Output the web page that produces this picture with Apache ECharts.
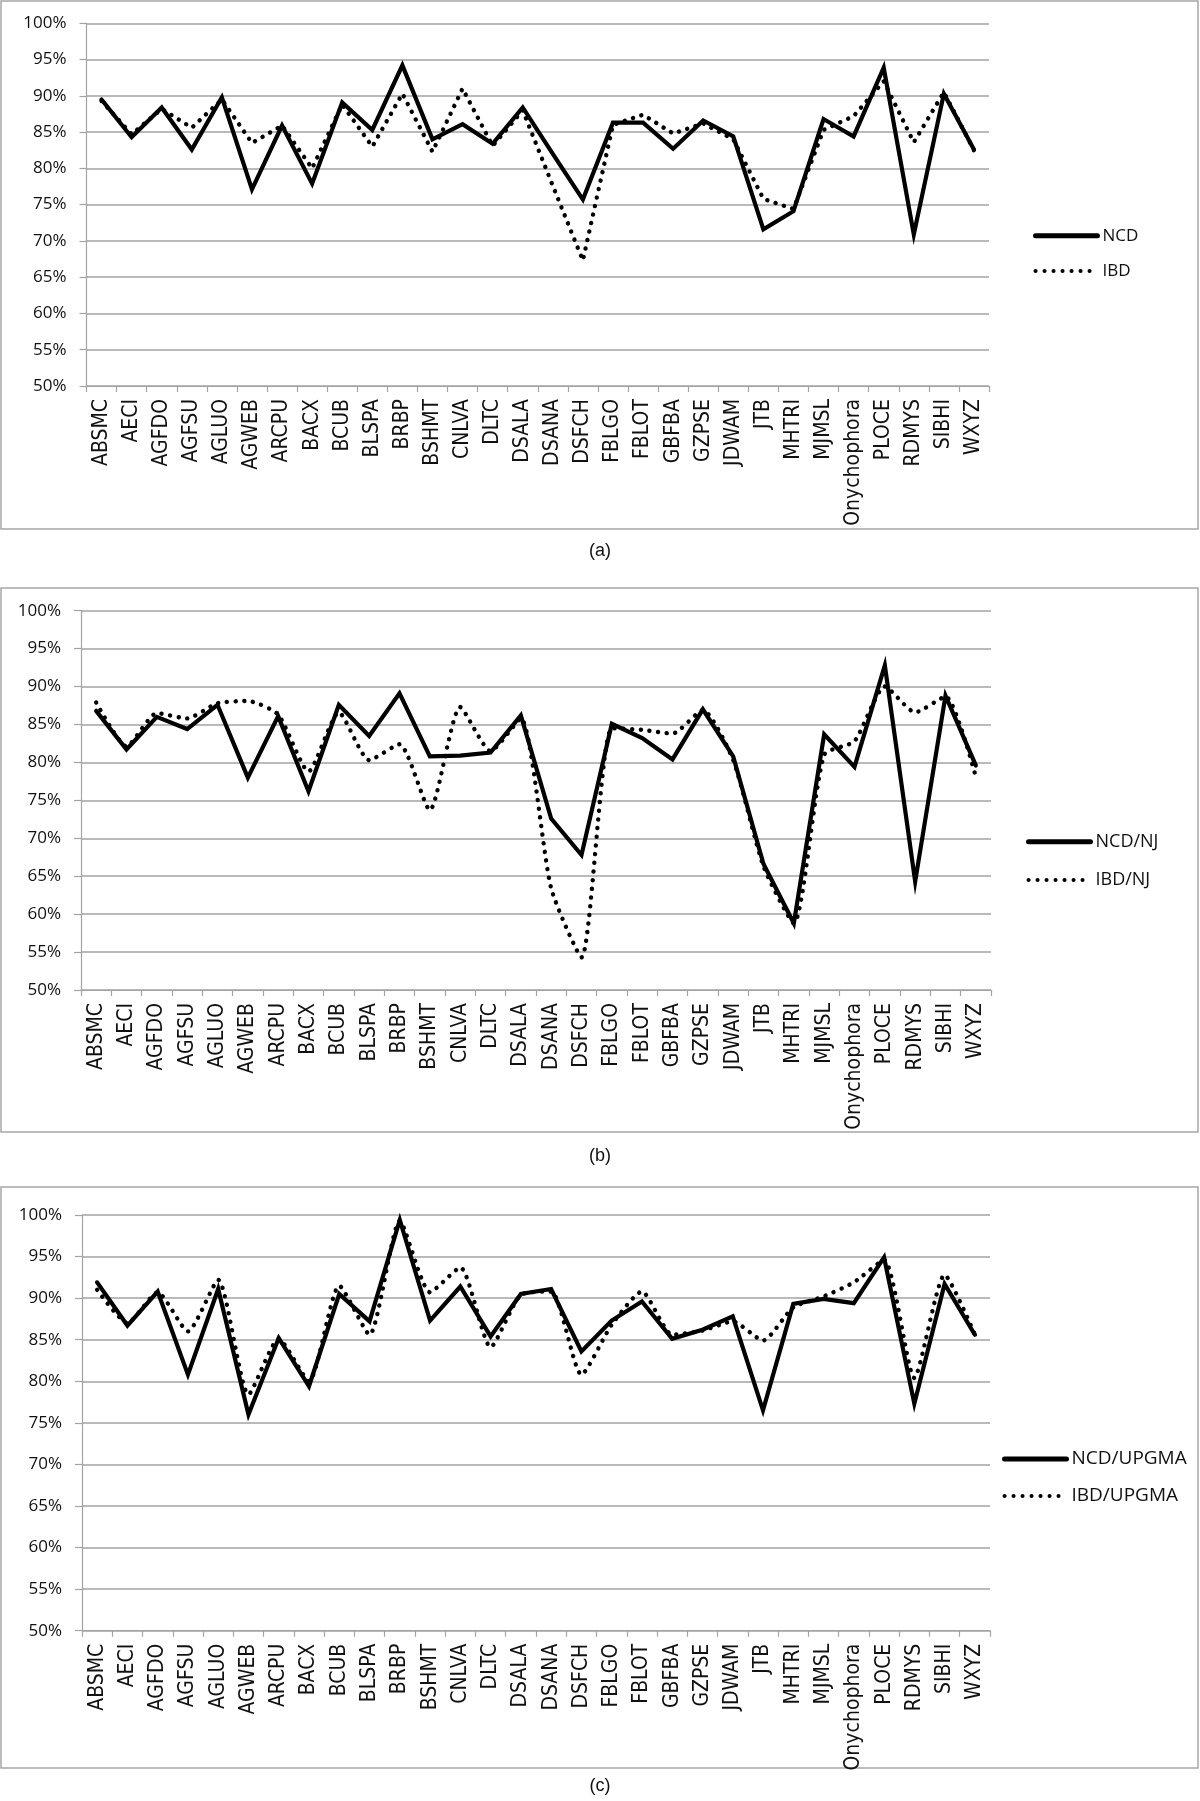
<!DOCTYPE html>
<html>
<head>
<meta charset="utf-8">
<script src="https://cdn.jsdelivr.net/npm/echarts@6/dist/echarts.min.js"></script>
<style>
  html, body { margin: 0; padding: 0; background: #ffffff; }
  #chart { width: 1200px; height: 1801px; }
</style>
</head>
<body>
<div id="chart"></div>
<script>
// ---- data ----
const categories = ['ABSMC','AECI','AGFDO','AGFSU','AGLUO','AGWEB','ARCPU','BACX','BCUB','BLSPA','BRBP','BSHMT','CNLVA','DLTC','DSALA','DSANA','DSFCH','FBLGO','FBLOT','GBFBA','GZPSE','JDWAM','JTB','MHTRI','MJMSL','Onychophora','PLOCE','RDMYS','SIBHI','WXYZ'];

// panel (a)
const ncd = [89.5, 84.3, 88.4, 82.6, 89.8, 77.1, 85.9, 77.9, 89.1, 85.3, 94.2, 84.0, 86.1, 83.4, 88.4, 82.0, 75.7, 86.3, 86.3, 82.7, 86.6, 84.4, 71.6, 74.1, 86.8, 84.4, 93.9, 70.9, 90.3, 82.6];
const ibd = [89.3, 84.7, 88.2, 85.6, 89.5, 83.5, 85.9, 80.0, 88.8, 83.0, 90.3, 82.3, 91.0, 83.1, 88.0, 77.6, 67.3, 86.0, 87.4, 84.8, 86.2, 84.0, 75.8, 74.4, 85.3, 87.2, 92.0, 83.6, 90.5, 82.5];

// panel (b)
const ncdNJ = [86.8, 81.7, 86.0, 84.4, 87.6, 78.0, 86.1, 76.2, 87.6, 83.5, 89.1, 80.8, 80.9, 81.3, 86.2, 72.6, 67.8, 85.1, 83.2, 80.4, 87.0, 80.8, 66.6, 58.8, 83.7, 79.4, 92.8, 64.3, 88.8, 79.6];
const ibdNJ = [87.9, 82.1, 86.5, 85.8, 87.8, 88.1, 86.3, 78.8, 86.6, 80.3, 82.4, 73.7, 87.3, 81.5, 85.8, 63.4, 54.3, 84.5, 84.3, 83.8, 86.9, 80.3, 66.3, 58.8, 81.0, 82.8, 90.0, 86.6, 88.7, 78.1];

// panel (c)
const ncdUPGMA = [91.9, 86.7, 90.8, 80.8, 91.1, 76.0, 85.2, 79.4, 90.5, 87.2, 99.4, 87.3, 91.4, 85.4, 90.5, 91.1, 83.6, 87.3, 89.6, 85.1, 86.2, 87.8, 76.5, 89.3, 89.9, 89.4, 94.9, 77.3, 91.7, 85.6];
const ibdUPGMA = [91.0, 87.0, 90.7, 86.0, 92.2, 78.4, 85.1, 80.0, 91.5, 85.6, 99.3, 90.7, 93.7, 84.1, 90.4, 90.8, 80.8, 86.8, 90.8, 85.6, 86.1, 87.2, 84.9, 88.9, 90.2, 91.9, 94.6, 80.4, 92.8, 85.6];

const yTicks = { min: 50, max: 100, interval: 5 };
const panelLabels = ['(a)', '(b)', '(c)'];

// ---- styles ----
const GRID_GRAY = '#a3a3a3';
const catFont = "'Liberation Sans Narrow', 'DejaVu Sans Condensed', 'Arial Narrow', sans-serif";
const tickFont = "'Open Sans', 'Noto Sans', sans-serif";

const grids = [
  { left: 86.5, top: 23.3, width: 902.5, height: 362.7 },
  { left: 81, top: 610.7, width: 910, height: 379.3 },
  { left: 82, top: 1215, width: 908, height: 415.7 }
];

function xAxis(i) {
  return {
    type: 'category', gridIndex: i, data: categories, boundaryGap: true,
    axisLine: { show: true, lineStyle: { color: GRID_GRAY, width: 1.2 } },
    axisTick: { show: true, length: 6, lineStyle: { color: GRID_GRAY, width: 1.2 } },
    axisLabel: { rotate: 90, interval: 0, margin: 13, color: '#111', fontFamily: catFont, fontSize: 21 },
    splitLine: { show: false }
  };
}
function yAxis(i) {
  return {
    type: 'value', gridIndex: i, min: yTicks.min, max: yTicks.max, interval: yTicks.interval,
    axisLine: { show: true, lineStyle: { color: GRID_GRAY, width: 1.2 } },
    axisTick: { show: true, length: 7, lineStyle: { color: GRID_GRAY, width: 1.2 } },
    axisLabel: { formatter: '{value}%', margin: 20, color: '#111', fontFamily: tickFont, fontSize: 17 },
    splitLine: { show: true, lineStyle: { color: GRID_GRAY, width: 1.5 } }
  };
}
const solidStyle = { color: '#000', width: 4.2, type: 'solid', cap: 'round', join: 'miter' };
const dotStyle = { color: '#000', width: 4.4, type: [0.1, 8.6], cap: 'round', join: 'round' };

function solid(name, data, i) {
  return { name, type: 'line', data, xAxisIndex: i, yAxisIndex: i, symbol: 'none',
    lineStyle: solidStyle, itemStyle: { color: '#000' }, z: 3, animation: false };
}
function dotted(name, data, i, smooth) {
  return { name, type: 'line', data, xAxisIndex: i, yAxisIndex: i, symbol: 'none', smooth: smooth,
    lineStyle: dotStyle, itemStyle: { color: '#000' }, z: 2, animation: false };
}

function legend(names, left, top, gap, fs) {
  return {
    data: [
      { name: names[0], lineStyle: { color: '#000', width: 5, type: 'solid', cap: 'round' }, itemStyle: { opacity: 0 } },
      { name: names[1], lineStyle: { color: '#000', width: 4, type: [0.1, 8.9], cap: 'round' }, itemStyle: { opacity: 0 } }
    ],
    orient: 'vertical', left, top, itemWidth: 62, itemHeight: 20, itemGap: gap,
    padding: 0, selectedMode: false,
    itemStyle: { opacity: 0 },
    textStyle: { fontFamily: tickFont, fontSize: fs, color: '#111', lineHeight: 20 }
  };
}

const boxes = [
  { y: 1, h: 528 },
  { y: 588, h: 544 },
  { y: 1187, h: 581 }
];

const titleStyle = { fontFamily: 'Liberation Sans', fontSize: 18, fontWeight: 'normal', color: '#111' };

const option = {
  animation: false,
  backgroundColor: '#ffffff',
  title: [
    { text: panelLabels[0], left: 'center', top: 542, padding: 0, textStyle: titleStyle },
    { text: panelLabels[1], left: 'center', top: 1147, padding: 0, textStyle: titleStyle },
    { text: panelLabels[2], left: 'center', top: 1777, padding: 0, textStyle: titleStyle }
  ],
  grid: grids,
  xAxis: [xAxis(0), xAxis(1), xAxis(2)],
  yAxis: [yAxis(0), yAxis(1), yAxis(2)],
  legend: [
    legend(['NCD', 'IBD'], 1033, 225.7, 15.3, 17),
    legend(['NCD/NJ', 'IBD/NJ'], 1026, 831.7, 18.3, 18),
    legend(['NCD/UPGMA', 'IBD/UPGMA'], 1002, 1449, 17, 19)
  ],
  series: [
    solid('NCD', ncd, 0), dotted('IBD', ibd, 0, false),
    solid('NCD/NJ', ncdNJ, 1), dotted('IBD/NJ', ibdNJ, 1, 0.2),
    solid('NCD/UPGMA', ncdUPGMA, 2), dotted('IBD/UPGMA', ibdUPGMA, 2, 0.2)
  ],
  graphic: boxes.map(b => ({
    type: 'rect', silent: true, z: -1,
    shape: { x: 1, y: b.y, width: 1197, height: b.h },
    style: { fill: 'none', stroke: '#a6a6a6', lineWidth: 1.5 }
  }))
};

const chart = echarts.init(document.getElementById('chart'), null, { renderer: 'canvas' });
chart.setOption(option);
</script>
</body>
</html>
